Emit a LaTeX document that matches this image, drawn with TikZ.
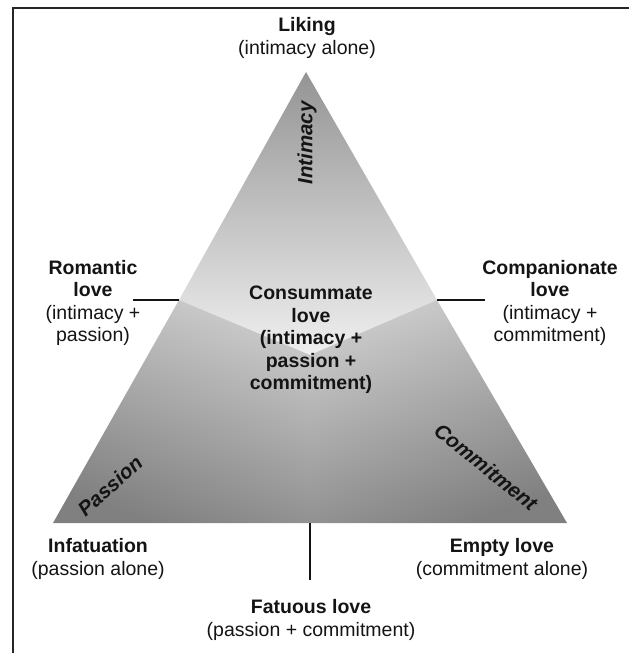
\documentclass[tikz,border=0pt]{standalone}
\usepackage{fontspec}
\setmainfont{Liberation Sans}
\usetikzlibrary{positioning}
\definecolor{inkgray}{RGB}{20,20,20}

\begin{document}
\begin{tikzpicture}[
    x=1pt, y=-1pt,
    every node/.style={font=\fontsize{19.5}{22.5}\selectfont, text=inkgray},
    lovetype/.style={align=center, inner sep=0pt},
    sidelabel/.style={font=\fontsize{20.5}{22.5}\selectfont\bfseries\itshape, inner sep=0pt},
    tick/.style={line width=1.3pt, color=inkgray},
    frame/.style={line width=2pt, color=black!85}
]
\useasboundingbox (0,0) rectangle (629,653);

% Frame
\draw[frame] (629,8) -- (13,8) -- (13,653);

% Triangle points
\coordinate (apex) at (306,72);
\coordinate (lcorner) at (53,523);
\coordinate (rcorner) at (567,523);
\coordinate (lmid) at (179,300);
\coordinate (rmid) at (437,300);
\coordinate (ctr) at (310,355);
\coordinate (bmid) at (310,523);

% Shaded regions
\shade[top color=black!42, bottom color=black!6] (apex) -- (rmid) -- (ctr) -- (lmid) -- cycle;
\shade[top color=black!20, bottom color=black!50, shading angle=-20] (lmid) -- (ctr) -- (bmid) -- (lcorner) -- cycle;
\shade[top color=black!20, bottom color=black!50, shading angle=20] (rmid) -- (rcorner) -- (bmid) -- (ctr) -- cycle;

% Corner labels
\node[sidelabel, rotate=90] (intimacy) at (307,143) {Intimacy};
\node[sidelabel, rotate=42] (passion) at (110,486) {Passion};
\node[sidelabel, rotate=-39] (commitment) at (486,467) {Commitment};

% Kinds of love
\node[lovetype] (liking) at (307,38) {\textbf{Liking}\\(intimacy alone)};
\node[lovetype] (romantic) at (93,303) {\textbf{Romantic}\\\textbf{love}\\(intimacy +\\passion)};
\node[lovetype] (companionate) at (550,303) {\textbf{Companionate}\\\textbf{love}\\(intimacy +\\commitment)};
\node[lovetype, font=\fontsize{19.5}{22.5}\selectfont\bfseries] (consummate) at (311,340) {Consummate\\love\\(intimacy +\\passion +\\commitment)};
\node[lovetype] (infatuation) at (98,559) {\textbf{Infatuation}\\(passion alone)};
\node[lovetype] (emptylove) at (502,559) {\textbf{Empty love}\\(commitment alone)};
\node[lovetype] (fatuous) at (311,620) {\textbf{Fatuous love}\\(passion + commitment)};

% Ticks
\coordinate (romend) at (133,300);
\coordinate (compend) at (485,300);
\coordinate (fatend) at (310,580);
\draw[tick] (romend) -- (lmid);
\draw[tick] (rmid) -- (compend);
\draw[tick] (bmid) -- (fatend);

\end{tikzpicture}
\end{document}
